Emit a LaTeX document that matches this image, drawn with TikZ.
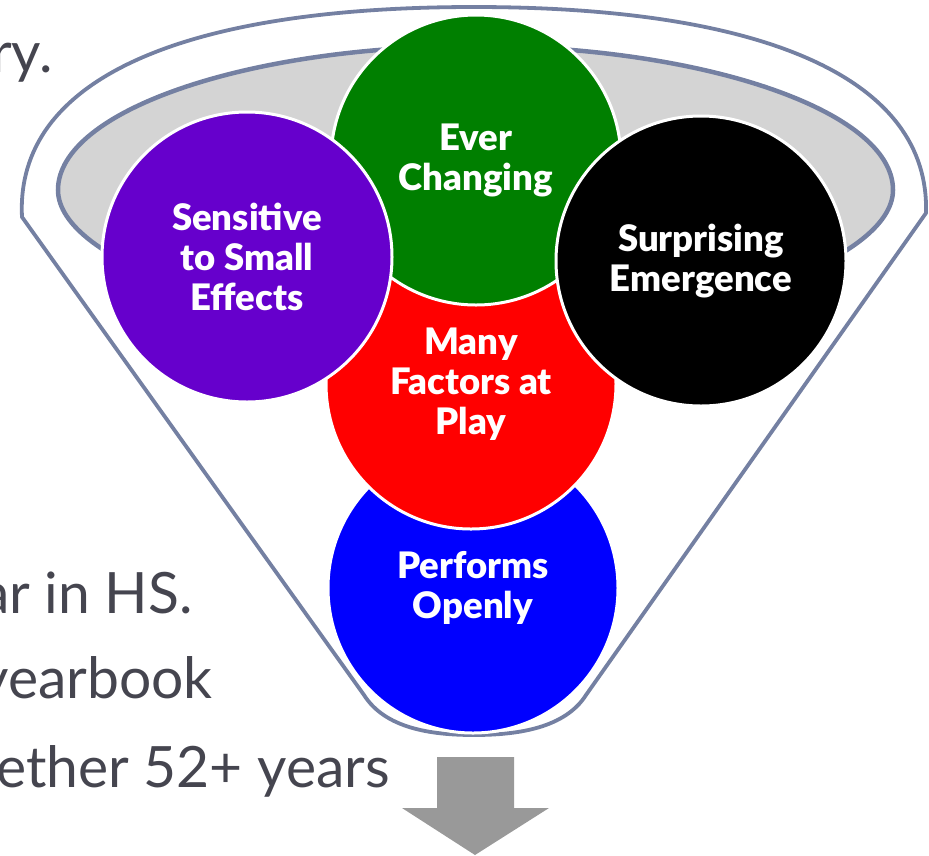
\documentclass[tikz,border=0pt]{standalone}
\usepackage{fontspec}
\setmainfont{Lato}
\newfontfamily\bubblefont{Lato Black}
\definecolor{lineblue}{HTML}{7480A2}
\definecolor{lipgray}{HTML}{D4D4D4}
\definecolor{cgreen}{HTML}{007F00}
\definecolor{cpurple}{HTML}{6600CC}
\definecolor{cred}{HTML}{FF0000}
\definecolor{cblue}{HTML}{0000FF}
\definecolor{arrowgray}{HTML}{999999}
\definecolor{sidegray}{HTML}{45454F}
\begin{document}
\begin{tikzpicture}[x=1pt,y=-1pt,
  funnel/.style={draw=lineblue, line width=3.8pt, line join=round},
  lip/.style={draw=lineblue, line width=4.5pt, fill=lipgray},
  bubble/.style={circle, draw=white, line width=3pt, minimum size=290pt, inner sep=0pt,
    text=white, align=center, font=\bubblefont\fontsize{36.5}{40}\selectfont},
  side/.style={anchor=base east, inner sep=0pt, text=sidegray, font=\fontsize{57}{60}\selectfont}]
\useasboundingbox (0,0) rectangle (929,855);
% funnel outline
\draw[funnel] (364,695) -- (22,217) .. controls (15,80) and (180,7) .. (474,7)
  .. controls (768,7) and (930,80) .. (926,213) -- (586,695)
  .. controls (565,728) and (518,735) .. (474,735)
  .. controls (430,735) and (385,728) .. (364,695) -- cycle;
% funnel lip
\draw[lip] (58,190) .. controls (58,110) and (250,46) .. (475,46)
  .. controls (700,46) and (893,110) .. (893,190)
  .. controls (893,260) and (700,330) .. (475,330)
  .. controls (250,330) and (58,260) .. (58,190) -- cycle;
% side text
\node[side] (t1) at (53,72) {ry.};
\node[side] (t2) at (193,613) {ar in HS.};
\node[side] (t3) at (213,698) {yearbook};
\node[side] (t4) at (390,787) {ether 52+ years};
% bubbles
\node[bubble, fill=cblue] (perf) at (473,588) {Performs\\Openly};
\node[bubble, fill=cred] (many) at (471,384) {Many\\Factors at\\Play};
\node[bubble, fill=cgreen] (ever) at (476,160) {Ever\\Changing};
\node[bubble, fill=cpurple] (sens) at (247,257) {Sensitive\\to Small\\Effects};
\node[bubble, fill=black] (surp) at (701,261) {Surprising\\Emergence};
% arrow
\fill[arrowgray] (437,757) -- (514,757) -- (514,808) -- (549,808) -- (475,855)
  -- (402,808) -- (437,808) -- cycle;
\end{tikzpicture}
\end{document}
